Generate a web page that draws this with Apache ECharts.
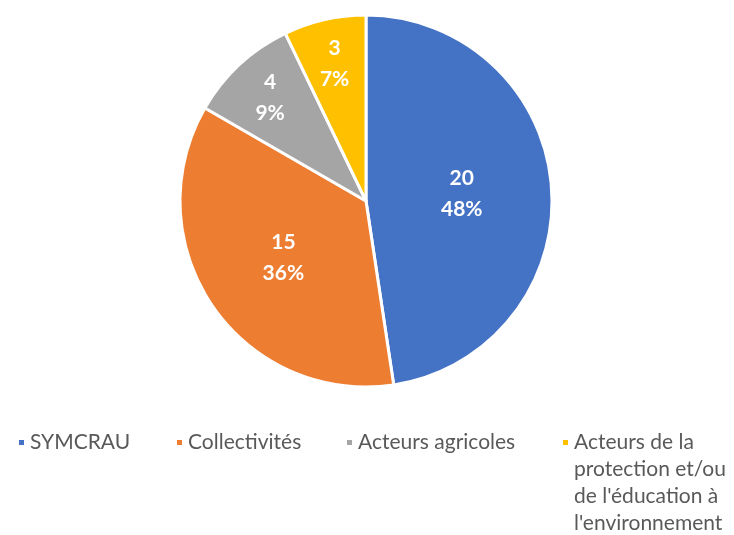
<!DOCTYPE html>
<html>
<head>
<meta charset="utf-8">
<script src="https://cdn.jsdelivr.net/npm/echarts@6/dist/echarts.min.js"></script>
<style>
  html, body { margin: 0; padding: 0; background: #fff; }
  #chart { width: 734px; height: 535px; }
</style>
</head>
<body>
<div id="chart"></div>
<script>
  var categories = ['SYMCRAU', 'Collectivités', 'Acteurs agricoles',
    "Acteurs de la protection et/ou de l'éducation à l'environnement"];
  var values = [20, 15, 4, 3];
  var colors = ['#4472C4', '#ED7D31', '#A5A5A5', '#FFC000'];

  // how far (px) each label is pushed outward from the default mid-radius spot
  var labelShift = [0, 4, 45, 45];
  var legendLeft = [12, 170, 340, 556];
  var legendText = {
    color: '#595959',
    fontSize: 21,
    fontFamily: 'Lato',
    lineHeight: 27
  };

  var center = [366, 201];
  var radius = 186;
  var total = values.reduce(function(a, b) { return a + b; }, 0);

  var acc = 0;
  var data = categories.map(function(name, i) {
    var mid = 90 - (acc + values[i] / 2) / total * 360;
    acc += values[i];
    var rad = mid * Math.PI / 180;
    return {
      name: name,
      value: values[i],
      itemStyle: { color: colors[i] },
      label: {
        offset: [labelShift[i] * Math.cos(rad), -labelShift[i] * Math.sin(rad)]
      }
    };
  });

  // one legend per item so each sits where it does in the original
  var legends = categories.map(function(name, i) {
    var last = i === categories.length - 1;
    return {
      data: [name],
      left: legendLeft[i],
      top: 424,
      orient: 'horizontal',
      itemWidth: 7,
      itemHeight: last ? 88 : 7,
      itemGap: 0,
      icon: last ? 'path://M0,0L7,0L7,7L0,7Z M0,88' : 'rect',
      selectedMode: false,
      textStyle: legendText,
      formatter: last ? function() {
        return "Acteurs de la\nprotection et/ou\nde l'éducation à\nl'environnement";
      } : '{name}'
    };
  });

  var chart = echarts.init(document.getElementById('chart'));
  chart.setOption({
    animation: false,
    legend: legends,
    series: [{
      type: 'pie',
      center: center,
      radius: radius,
      startAngle: 90,
      clockwise: true,
      percentPrecision: 0,
      itemStyle: { borderColor: '#fff', borderWidth: 3 },
      label: {
        position: 'inner',
        formatter: '{c}\n{d}%',
        color: '#fff',
        fontSize: 21,
        fontWeight: 'bold',
        fontFamily: 'Lato',
        lineHeight: 31
      },
      labelLine: { show: false },
      emphasis: { disabled: true },
      data: data
    }]
  });
</script>
</body>
</html>
